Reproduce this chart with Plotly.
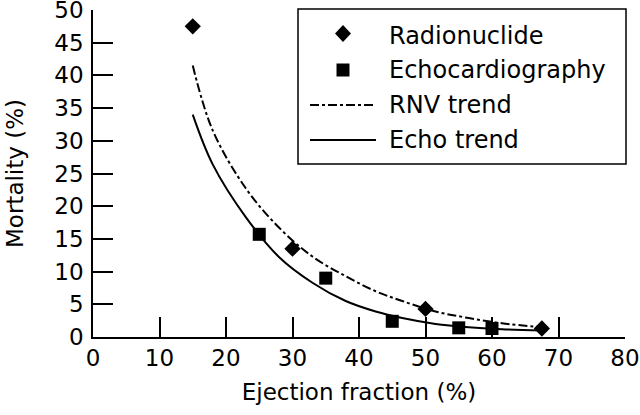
import plotly.graph_objects as go

# ---- data ----
rnv_x = [15, 30, 50, 67.5]
rnv_y = [47.5, 13.5, 4.3, 1.3]

echo_x = [25, 35, 45, 55, 60]
echo_y = [15.7, 9.0, 2.4, 1.4, 1.3]

trend_x = [15, 18, 23, 28, 33, 38, 42.5, 46.5, 51.5, 56.5, 61.5, 67.5]
rnv_trend_y = [41.5, 31.6, 22.7, 16.7, 12.3, 9.3, 7.0, 5.5, 3.9, 2.9, 2.1, 1.5]
echo_trend_y = [34.0, 26.4, 18.3, 12.2, 8.3, 5.5, 3.9, 2.9, 2.0, 1.5, 1.2, 1.0]

x_ticks = [0, 10, 20, 30, 40, 50, 60, 70, 80]
y_ticks = [0, 5, 10, 15, 20, 25, 30, 35, 40, 45, 50]

legend_labels = ["Radionuclide", "Echocardiography", "RNV trend", "Echo trend"]

# ---- layout geometry (pixels) ----
W, H = 640, 415
ML, MR, MT, MB = 93, 15, 10, 78
PW, PH = W - ML - MR, H - MT - MB

def px(x):
    return (x - ML) / PW

def py(y):
    return (H - MB - y) / PH

FONT = "DejaVu Sans"

fig = go.Figure()
fig.add_trace(go.Scatter(x=trend_x, y=rnv_trend_y, mode="lines", line_shape="spline",
                         line=dict(color="black", width=2, dash="9px,3px,3px,3px"),
                         showlegend=False))
fig.add_trace(go.Scatter(x=trend_x, y=echo_trend_y, mode="lines", line_shape="spline",
                         line=dict(color="black", width=2), showlegend=False))
fig.add_trace(go.Scatter(x=rnv_x, y=rnv_y, mode="markers",
                         marker=dict(symbol="diamond", size=12.5, color="black"),
                         showlegend=False))
fig.add_trace(go.Scatter(x=echo_x, y=echo_y, mode="markers",
                         marker=dict(symbol="square", size=13, color="black"),
                         showlegend=False))

axis_common = dict(showgrid=False, zeroline=False, showline=True, linecolor="black",
                   linewidth=1.5, ticks="inside", ticklen=20, tickwidth=1.5,
                   tickcolor="black", tickfont=dict(family=FONT, size=23, color="black"),
                   automargin=False, ticklabeloverflow="allow")

fig.update_xaxes(range=[0, 80], tickvals=x_ticks, ticktext=[str(v) for v in x_ticks],
                 title=dict(text="Ejection fraction (%)", font=dict(family=FONT, size=23, color="black"),
                            standoff=14),
                 ticklabelstandoff=0, **axis_common)
fig.update_yaxes(range=[0, 50], tickvals=y_ticks, ticktext=[str(v) for v in y_ticks],
                 title=dict(text="Mortality (%)", font=dict(family=FONT, size=23, color="black"),
                            standoff=24),
                 ticklabelstandoff=3, **axis_common)

# ---- custom legend ----
shapes = []
annotations = []
shapes.append(dict(type="rect", xref="paper", yref="paper", x0=px(298), x1=px(626),
                   y0=py(164), y1=py(9), line=dict(color="black", width=1.5),
                   fillcolor="white", layer="above"))
# diamond
cx, cy = 343, 33.5
shapes.append(dict(type="path", xref="paper", yref="paper",
                   path=f"M {px(cx-8)},{py(cy)} L {px(cx)},{py(cy-8.5)} L {px(cx+8)},{py(cy)} L {px(cx)},{py(cy+8.5)} Z",
                   fillcolor="black", line=dict(color="black", width=0)))
# square
cx, cy = 343, 70
shapes.append(dict(type="rect", xref="paper", yref="paper", x0=px(cx-6.5), x1=px(cx+6.5),
                   y0=py(cy+6.5), y1=py(cy-6.5), fillcolor="black", line=dict(color="black", width=0)))
# lines
shapes.append(dict(type="line", xref="paper", yref="paper", x0=px(310), x1=px(376),
                   y0=py(105), y1=py(105), line=dict(color="black", width=2, dash="9px,3px,3px,3px")))
shapes.append(dict(type="line", xref="paper", yref="paper", x0=px(310), x1=px(376),
                   y0=py(140), y1=py(140), line=dict(color="black", width=2)))

for lab, yc in zip(legend_labels, [34.7, 68.8, 103.7, 138.8]):
    annotations.append(dict(text=lab, xref="paper", yref="paper", x=px(387), y=py(yc + 1),
                            xanchor="left", yanchor="middle", showarrow=False,
                            font=dict(family=FONT, size=24, color="black")))

fig.update_layout(width=W, height=H, margin=dict(l=ML, r=MR, t=MT, b=MB),
                  paper_bgcolor="white", plot_bgcolor="white",
                  shapes=shapes, annotations=annotations, showlegend=False)

fig.write_html("out.html", config={"displayModeBar": False},
               post_script="document.body.style.margin='0';")
